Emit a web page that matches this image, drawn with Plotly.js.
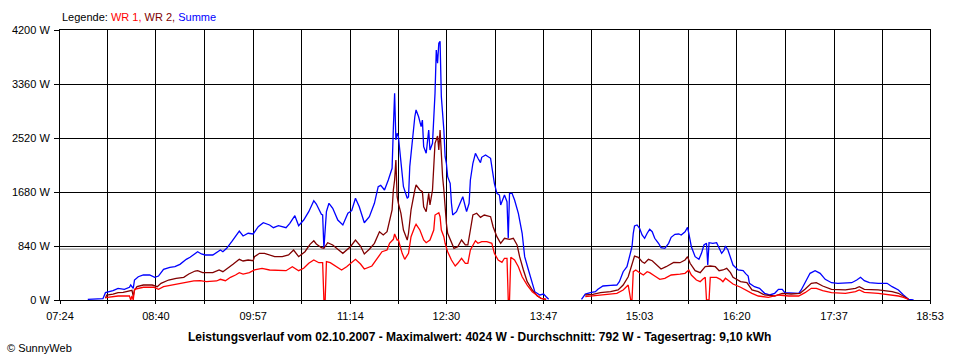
<!DOCTYPE html>
<html>
<head>
<meta charset="utf-8">
<script src="https://cdn.plot.ly/plotly-3.0.1.min.js"></script>
<style>
  html, body { margin: 0; padding: 0; background: #ffffff; }
  #chart { width: 960px; height: 360px; }
</style>
</head>
<body>
<div id="chart"></div>
<script>
// ---- Data ----
const xTickLabels = ["07:24","08:40","09:57","11:14","12:30","13:47","15:03","16:20","17:37","18:53"];
const yTickValues = [0, 840, 1680, 2520, 3360, 4200];
const averageW = 792;

const timeSumme = ["07:46","07:58","08:00","08:06","08:10","08:15","08:19","08:20","08:22","08:23","08:26","08:30","08:35","08:39","08:42","08:46","08:51","08:55","08:59","09:04","09:07","09:11","09:13","09:16","09:19","09:25","09:28","09:31","09:33","09:36","09:40","09:43","09:46","09:49","09:53","09:57","10:01","10:05","10:10","10:13","10:17","10:23","10:26","10:30","10:33","10:37","10:41","10:45","10:47","10:51","10:52","10:53","10:55","10:57","11:00","11:04","11:08","11:12","11:15","11:18","11:21","11:25","11:29","11:33","11:36","11:38","11:41","11:44","11:47","11:48","11:49","11:50","11:51","11:52","11:54","11:56","11:59","12:00","12:01","12:03","12:05","12:06","12:08","12:10","12:11","12:12","12:14","12:16","12:17","12:19","12:20","12:21","12:22","12:23","12:24","12:25","12:26","12:28","12:29","12:30","12:31","12:33","12:34","12:35","12:38","12:41","12:43","12:45","12:46","12:48","12:49","12:51","12:53","12:55","12:57","12:58","13:01","13:05","13:06","13:08","13:10","13:12","13:13","13:15","13:16","13:18","13:19","13:20","13:22","13:24","13:27","13:30","13:32","13:35","13:38","13:40","13:44","13:47","13:49","13:51","14:00","14:17","14:20","14:24","14:28","14:30","14:34","14:40","14:45","14:47","14:50","14:53","14:55","14:57","14:58","14:59","15:01","15:03","15:05","15:07","15:09","15:11","15:13","15:15","15:18","15:20","15:23","15:26","15:28","15:31","15:34","15:36","15:39","15:41","15:42","15:44","15:47","15:50","15:52","15:54","15:56","15:57","15:58","16:01","16:04","16:06","16:08","16:10","16:11","16:13","16:15","16:17","16:21","16:25","16:27","16:29","16:30","16:34","16:38","16:42","16:46","16:50","16:53","16:56","16:58","17:03","17:09","17:11","17:14","17:18","17:22","17:26","17:30","17:35","17:40","17:46","17:51","17:55","17:58","18:01","18:05","18:12","18:19","18:23","18:28","18:32","18:36","18:40"];
const summe = [11,20,114,145,182,166,198,233,182,311,362,389,389,353,373,478,509,518,555,633,664,726,751,716,700,700,736,778,751,804,907,985,1073,996,1038,1027,1140,1202,1167,1125,1156,1125,1193,1311,1156,1244,1374,1545,1493,1333,1322,804,1374,1504,1426,1244,1167,1349,1389,1582,1451,1202,1296,1504,1762,1784,1711,1867,2049,2671,3215,2489,2593,2540,2127,1762,1582,1607,2074,2489,2851,2956,2851,2696,2800,2385,2282,2644,2333,2438,2800,3215,3889,3682,3993,4024,3163,2644,2229,2127,1918,1815,1504,1322,1374,1504,1607,1451,1374,1504,1867,2127,2282,2204,2136,2220,2256,2204,2074,1815,1660,1633,1478,1607,1633,1529,960,1660,1660,1556,1349,1038,674,467,260,129,78,93,51,11,null,11,93,114,129,166,218,229,233,285,440,518,684,829,1038,1151,1167,1115,1011,960,1038,1100,1062,960,882,814,804,882,975,1022,1027,1011,1062,1131,1038,829,674,633,726,856,882,544,891,882,891,804,726,778,840,778,649,544,467,456,410,373,260,207,182,104,78,104,166,166,114,114,104,156,260,415,456,415,322,269,260,260,269,311,353,300,269,260,260,207,156,78,11,0];

const timeWR2 = ["08:00","08:01","08:06","08:10","08:14","08:19","08:21","08:22","08:23","08:25","08:30","08:37","08:41","08:44","08:50","08:56","09:02","09:06","09:11","09:13","09:17","09:25","09:30","09:33","09:37","09:41","09:46","09:49","09:53","09:57","09:58","10:02","10:06","10:10","10:14","10:20","10:25","10:29","10:33","10:38","10:42","10:45","10:47","10:51","10:53","10:56","11:00","11:04","11:08","11:14","11:18","11:22","11:25","11:29","11:33","11:37","11:40","11:43","11:45","11:47","11:48","11:49","11:50","11:51","11:52","11:54","11:56","11:59","12:00","12:02","12:05","12:06","12:09","12:11","12:12","12:14","12:16","12:17","12:19","12:20","12:21","12:23","12:24","12:25","12:26","12:27","12:28","12:29","12:30","12:31","12:34","12:36","12:39","12:42","12:45","12:47","12:49","12:51","12:54","12:57","13:00","13:05","13:07","13:10","13:13","13:16","13:20","13:23","13:26","13:28","13:31","13:34","13:38","13:42","13:45","13:49","14:00","14:20","14:26","14:32","14:40","14:46","14:50","14:54","14:57","14:59","15:02","15:05","15:07","15:10","15:13","15:17","15:20","15:24","15:30","15:35","15:39","15:41","15:43","15:47","15:51","15:55","15:59","16:03","16:06","16:09","16:12","16:15","16:17","16:23","16:28","16:32","16:37","16:42","16:50","16:56","17:03","17:10","17:14","17:19","17:23","17:28","17:35","17:46","17:54","17:57","18:01","18:12","18:23","18:28","18:32","18:36"];
const wr2 = [26,78,93,114,120,145,150,60,150,207,233,233,207,260,311,338,353,404,451,456,425,425,467,440,493,555,633,607,622,611,674,726,726,700,674,674,700,778,674,751,866,922,871,814,804,891,856,789,726,829,933,840,716,789,882,1062,1011,1062,1244,1400,1711,1867,2178,1607,1504,1349,1089,933,1038,1400,1711,1789,1711,1685,1451,1374,1660,1478,1711,2022,2438,2551,2333,2644,2229,1918,1711,1400,1193,1038,882,804,829,933,856,856,1089,1322,1349,1286,1322,1296,1140,985,882,960,944,960,856,674,467,285,156,62,26,11,null,78,89,114,129,156,233,362,544,684,664,596,571,633,611,544,482,518,586,580,622,674,571,456,425,518,529,518,456,467,493,425,353,285,269,156,129,78,62,104,93,104,166,260,269,218,166,156,182,207,166,156,129,104,62,11];

const timeWR1 = ["08:00","08:05","08:10","08:19","08:20","08:21","08:22","08:23","08:30","08:38","08:42","08:46","08:54","08:59","09:04","09:10","09:15","09:20","09:28","09:31","09:35","09:39","09:43","09:46","09:49","09:54","09:58","10:04","10:10","10:16","10:23","10:28","10:33","10:37","10:41","10:45","10:49","10:52","10:53","10:54","10:55","10:58","11:02","11:07","11:11","11:15","11:18","11:22","11:25","11:31","11:35","11:39","11:43","11:45","11:48","11:49","11:51","11:52","11:55","11:57","12:00","12:02","12:05","12:06","12:09","12:12","12:14","12:17","12:20","12:21","12:24","12:25","12:26","12:28","12:29","12:31","12:34","12:37","12:39","12:42","12:45","12:47","12:49","12:53","12:55","12:58","13:02","13:06","13:08","13:11","13:14","13:16","13:18","13:19","13:20","13:21","13:24","13:27","13:30","13:34","13:38","13:42","13:45","13:49","14:00","14:20","14:26","14:34","14:45","14:50","14:54","14:56","14:57","14:58","15:00","15:03","15:06","15:09","15:11","15:15","15:19","15:23","15:28","15:35","15:39","15:42","15:44","15:48","15:51","15:53","15:55","15:56","15:58","15:59","16:04","16:07","16:09","16:11","16:14","16:17","16:23","16:26","16:32","16:37","16:45","16:53","17:01","17:09","17:14","17:19","17:23","17:28","17:35","17:46","17:54","17:57","18:01","18:12","18:23","18:28","18:32","18:36"];
const wr1 = [36,51,62,62,0,62,0,166,198,198,166,207,233,249,269,296,300,285,296,322,300,353,389,425,404,425,467,493,467,467,456,518,456,493,571,622,580,580,0,0,596,580,529,467,518,580,633,560,482,529,649,751,778,882,944,1027,933,933,726,633,726,985,1140,1178,1089,933,891,933,1089,1322,1358,1296,1089,985,882,751,622,529,571,649,571,571,778,922,882,907,907,882,726,622,586,649,649,0,0,664,622,518,362,233,129,62,26,11,null,51,62,78,104,156,233,0,0,440,467,425,389,440,425,373,322,338,389,404,415,467,389,311,285,322,353,0,0,353,353,322,285,338,300,249,198,166,104,62,42,78,62,62,114,182,182,145,114,104,129,156,120,104,78,62,42,11];

// ---- Helpers ----
function toMin(s) { const p = s.split(':').map(Number); return p[0] * 60 + p[1]; }

const majorVals = xTickLabels.map(toMin);
const tickVals = [], tickText = [];
for (let i = 0; i < majorVals.length; i++) {
  tickVals.push(majorVals[i]); tickText.push(xTickLabels[i]);
  if (i < majorVals.length - 1) { tickVals.push((majorVals[i] + majorVals[i + 1]) / 2); tickText.push(''); }
}

const FONT = 'Liberation Sans, Arial, sans-serif';

function series(times, vals, color, name) {
  return {
    type: 'scatter', mode: 'lines', name: name,
    x: times.map(toMin), y: vals,
    line: { color: color, width: 1.3 },
    connectgaps: false, hoverinfo: 'skip'
  };
}

const traces = [
  series(timeSumme, summe, '#0000ff', 'Summe'),
  series(timeWR2, wr2, '#800000', 'WR 2'),
  series(timeWR1, wr1, '#ff0000', 'WR 1')
];

const layout = {
  width: 960, height: 360,
  margin: { l: 60, r: 30, t: 30, b: 60, pad: 0 },
  paper_bgcolor: '#ffffff', plot_bgcolor: '#ffffff',
  showlegend: false,
  font: { family: FONT, size: 11, color: '#000000' },
  xaxis: {
    range: [majorVals[0], majorVals[majorVals.length - 1]],
    tickmode: 'array', tickvals: tickVals, ticktext: tickText,
    showgrid: true, gridcolor: '#000000', gridwidth: 1,
    zeroline: false, showline: true, linecolor: '#000000', linewidth: 1, mirror: true,
    ticks: 'outside', ticklen: 3, tickcolor: '#000000', tickwidth: 1,
    ticklabelstandoff: 3,
    tickfont: { family: FONT, size: 11, color: '#000000' },
    fixedrange: true
  },
  yaxis: {
    range: [0, 4200],
    tickmode: 'array', tickvals: yTickValues, ticktext: yTickValues.map(v => v + ' W'),
    showgrid: true, gridcolor: '#000000', gridwidth: 1,
    zeroline: false, showline: true, linecolor: '#000000', linewidth: 1, mirror: true,
    ticks: 'outside', ticklen: 5, tickcolor: '#000000', tickwidth: 1,
    ticklabelstandoff: 2,
    tickfont: { family: FONT, size: 11, color: '#000000' },
    fixedrange: true
  },
  shapes: [{
    type: 'line', xref: 'paper', x0: 0, x1: 1, yref: 'y', y0: averageW, y1: averageW,
    line: { color: '#808080', width: 1 }, layer: 'below'
  }],
  annotations: [
    {
      xref: 'paper', yref: 'paper', x: 0, y: 1.048, xanchor: 'left', yanchor: 'middle',
      showarrow: false, font: { family: FONT, size: 11, color: '#000000' },
      text: 'Legende: <span style="color:#ff0000">WR 1,</span> <span style="color:#800000">WR 2,</span> <span style="color:#0000ff">Summe</span>'
    },
    {
      xref: 'paper', yref: 'paper', x: 0.482, y: -0.137, xanchor: 'center', yanchor: 'middle',
      showarrow: false, font: { family: FONT, size: 12, color: '#000000', weight: 'bold' },
      text: '<b>Leistungsverlauf vom 02.10.2007 - Maximalwert: 4024 W - Durchschnitt: 792 W - Tagesertrag: 9,10 kWh</b>'
    },
    {
      xref: 'paper', yref: 'paper', x: -0.0632, y: -0.178, xanchor: 'left', yanchor: 'middle',
      showarrow: false, font: { family: FONT, size: 11, color: '#000000' },
      text: '© SunnyWeb'
    }
  ]
};

Plotly.newPlot('chart', traces, layout, { staticPlot: true, displayModeBar: false });
</script>
</body>
</html>
